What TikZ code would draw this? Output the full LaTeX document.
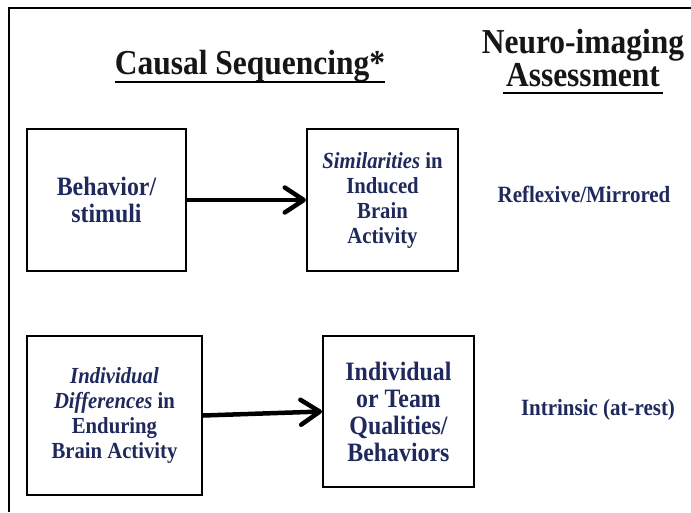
\documentclass[tikz,border=0pt]{standalone}
\usepackage{fontspec}
\setmainfont[FakeStretch=0.9]{Liberation Serif}
\usetikzlibrary{arrows.meta}
\definecolor{navy}{RGB}{31,41,92}
\definecolor{ink}{RGB}{22,22,22}
\begin{document}
\begin{tikzpicture}[x=1pt,y=-1pt,
  box/.style={draw=black,line width=2pt,inner sep=0pt,text=navy,align=center},
  bigtxt/.style={font=\bfseries\fontsize{26.5}{27}\selectfont},
  smalltxt/.style={font=\bfseries\fontsize{23}{25}\selectfont},
  head/.style={text=ink,font=\bfseries\fontsize{35}{26}\selectfont,inner sep=0pt,anchor=base},
  side/.style={text=navy,font=\bfseries\fontsize{23.3}{25}\selectfont,inner sep=0pt},
  uline/.style={draw=black,line width=2.5pt},
  conn/.style={draw=black,line width=4.5pt,
    -{Straight Barb[length=19pt,width=25pt,line cap=round,line join=round]}}
]
\useasboundingbox (0,0) rectangle (691,512);
\fill[white] (0,0) rectangle (691,512);
% frame
\draw[line width=2pt] (8.5,512) -- (8.5,7.5) -- (691,7.5);

% headers
\node[head] (title) at (250,74) {Causal Sequencing*};
\draw[uline] ([yshift=-8pt]title.base west) -- ([yshift=-8pt]title.base east);
\node[head] (neuro) at (583,53) {Neuro-imaging};
\node[head] (assess) at (583,86) {Assessment};
\draw[uline] ([xshift=-3pt,yshift=-7pt]assess.base west) -- ([xshift=3pt,yshift=-7pt]assess.base east);

% boxes
\node[box,bigtxt,minimum width=159pt,minimum height=142pt] (b1) at (106.5,200) {Behavior/\\stimuli};
\node[box,smalltxt,minimum width=151pt,minimum height=142pt] (b2) at (382.5,200)
  {\textit{Similarities} in\\Induced\\Brain\\Activity};
\node[box,smalltxt,minimum width=175pt,minimum height=159pt] (b3) at (114.5,415.5)
  {\textit{Individual}\\\textit{Differences} in\\Enduring\\Brain Activity};
\node[box,bigtxt,minimum width=151pt,minimum height=151pt] (b4) at (398.5,411.5)
  {Individual\\or Team\\Qualities/\\Behaviors};

% side labels
\node[side] (refl) at (584,194) {Reflexive/Mirrored};
\node[side] (intr) at (598,410) {Intrinsic (at-rest)};

% connectors
\draw[conn] (b1.east) -- (b2.west);
\draw[conn] (b3.east) -- (b4.west);
\end{tikzpicture}
\end{document}
